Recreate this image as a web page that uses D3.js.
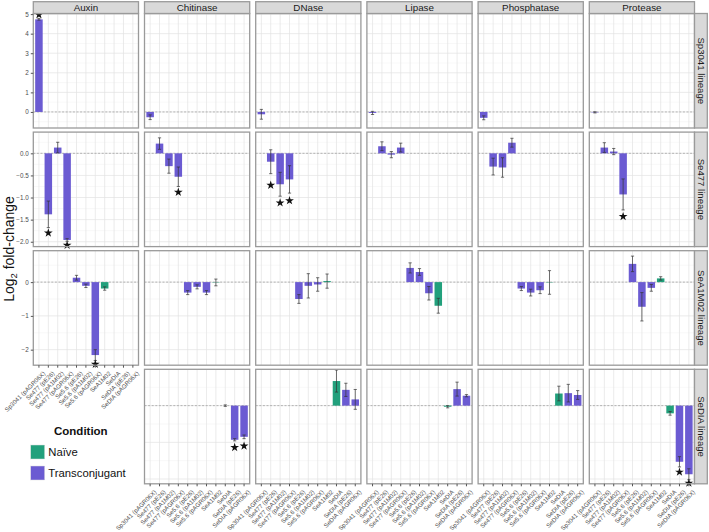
<!DOCTYPE html>
<html>
<head>
<meta charset="utf-8">
<script src="https://cdn.jsdelivr.net/npm/d3@7"></script>
<style>
    body { margin: 0; background: #fff; }
    svg { display: block; font-family: "Liberation Sans", Arial, sans-serif; }
</style>
</head>
<body>
<svg id="chart" width="709" height="532"></svg>
<script>
'use strict';

/************************************************ data ******************************************************/

var assays = ['Auxin', 'Chitinase', 'DNase', 'Lipase', 'Phosphatase', 'Protease'];
var lineages = ['Sp3041 lineage', 'Se477 lineage', 'SeA1M02 lineage', 'SeDIA lineage'];
var strains = [
    'Sp3041 (pAGR06X)', 'Se477 (pE26)', 'Se477 (pA1M02)', 'Se477 (pAGR06X)',
    'Se5.6 (pE26)', 'Se5.6 (pA1M02)', 'Se5.6 (pAGR06X)', 'SeA1M02',
    'SeDIA', 'SeDIA (pE26)', 'SeDIA (pAGR06X)'
];
var naiveStrains = ['SeA1M02', 'SeDIA'];
var conditions = ['Naïve', 'Transconjugant'];
var conditionColors = ['#22a07c', '#6b5bd2'];

// [assay, strain, log2 fold-change, error, star position (null = not significant)]
var sp3041Data = [
    ['Auxin', 'Sp3041 (pAGR06X)', 4.73, 0.04, 4.97],
    ['Chitinase', 'Sp3041 (pAGR06X)', -0.27, 0.12, null],
    ['DNase', 'Sp3041 (pAGR06X)', -0.12, 0.25, null],
    ['Lipase', 'Sp3041 (pAGR06X)', -0.05, 0.08, null],
    ['Phosphatase', 'Sp3041 (pAGR06X)', -0.3, 0.1, null],
    ['Protease', 'Sp3041 (pAGR06X)', -0.02, 0.03, null]
];

var se477Data = [
    ['Auxin', 'Se477 (pE26)', -1.38, 0.3, -1.8],
    ['Auxin', 'Se477 (pA1M02)', 0.13, 0.12, null],
    ['Auxin', 'Se477 (pAGR06X)', -1.96, 0.03, -2.08],
    ['Chitinase', 'Se477 (pE26)', 0.22, 0.13, null],
    ['Chitinase', 'Se477 (pA1M02)', -0.29, 0.16, null],
    ['Chitinase', 'Se477 (pAGR06X)', -0.53, 0.22, -0.88],
    ['DNase', 'Se477 (pE26)', -0.19, 0.27, -0.72],
    ['DNase', 'Se477 (pA1M02)', -0.7, 0.27, -1.12],
    ['DNase', 'Se477 (pAGR06X)', -0.59, 0.31, -1.07],
    ['Lipase', 'Se477 (pE26)', 0.16, 0.1, null],
    ['Lipase', 'Se477 (pA1M02)', -0.03, 0.07, null],
    ['Lipase', 'Se477 (pAGR06X)', 0.13, 0.1, null],
    ['Phosphatase', 'Se477 (pE26)', -0.3, 0.19, null],
    ['Phosphatase', 'Se477 (pA1M02)', -0.32, 0.22, null],
    ['Phosphatase', 'Se477 (pAGR06X)', 0.24, 0.1, null],
    ['Protease', 'Se477 (pE26)', 0.13, 0.11, null],
    ['Protease', 'Se477 (pA1M02)', 0.04, 0.07, null],
    ['Protease', 'Se477 (pAGR06X)', -0.93, 0.35, -1.43]
];

var seA1M02Data = [
    ['Auxin', 'Se5.6 (pE26)', 0.13, 0.07, null],
    ['Auxin', 'Se5.6 (pA1M02)', -0.11, 0.05, null],
    ['Auxin', 'Se5.6 (pAGR06X)', -2.16, 0.16, -2.43],
    ['Auxin', 'SeA1M02', -0.19, 0.05, null],
    ['Chitinase', 'Se5.6 (pE26)', -0.31, 0.06, null],
    ['Chitinase', 'Se5.6 (pA1M02)', -0.14, 0.06, null],
    ['Chitinase', 'Se5.6 (pAGR06X)', -0.31, 0.06, null],
    ['Chitinase', 'SeA1M02', -0.01, 0.1, null],
    ['DNase', 'Se5.6 (pE26)', -0.5, 0.13, null],
    ['DNase', 'Se5.6 (pA1M02)', -0.11, 0.36, null],
    ['DNase', 'Se5.6 (pAGR06X)', -0.07, 0.2, null],
    ['DNase', 'SeA1M02', 0.03, 0.21, null],
    ['Lipase', 'Se5.6 (pE26)', 0.42, 0.15, null],
    ['Lipase', 'Se5.6 (pA1M02)', 0.3, 0.1, null],
    ['Lipase', 'Se5.6 (pAGR06X)', -0.33, 0.2, null],
    ['Lipase', 'SeA1M02', -0.7, 0.22, null],
    ['Phosphatase', 'Se5.6 (pE26)', -0.19, 0.06, null],
    ['Phosphatase', 'Se5.6 (pA1M02)', -0.31, 0.1, null],
    ['Phosphatase', 'Se5.6 (pAGR06X)', -0.24, 0.1, null],
    ['Phosphatase', 'SeA1M02', -0.01, 0.35, null],
    ['Protease', 'Se5.6 (pE26)', 0.54, 0.23, null],
    ['Protease', 'Se5.6 (pA1M02)', -0.73, 0.42, null],
    ['Protease', 'Se5.6 (pAGR06X)', -0.17, 0.1, null],
    ['Protease', 'SeA1M02', 0.11, 0.05, null]
];

var seDIAData = [
    ['Chitinase', 'SeDIA', 0.0, 0.02, null],
    ['Chitinase', 'SeDIA (pE26)', -0.93, 0.03, -1.14],
    ['Chitinase', 'SeDIA (pAGR06X)', -0.85, 0.05, -1.1],
    ['DNase', 'SeDIA', 0.67, 0.3, null],
    ['DNase', 'SeDIA (pE26)', 0.43, 0.18, null],
    ['DNase', 'SeDIA (pAGR06X)', 0.17, 0.27, null],
    ['Lipase', 'SeDIA', -0.03, 0.03, null],
    ['Lipase', 'SeDIA (pE26)', 0.45, 0.19, null],
    ['Lipase', 'SeDIA (pAGR06X)', 0.27, 0.03, null],
    ['Phosphatase', 'SeDIA', 0.33, 0.2, null],
    ['Phosphatase', 'SeDIA (pE26)', 0.34, 0.24, null],
    ['Phosphatase', 'SeDIA (pAGR06X)', 0.29, 0.12, null],
    ['Protease', 'SeDIA', -0.21, 0.05, null],
    ['Protease', 'SeDIA (pE26)', -1.53, 0.14, -1.81],
    ['Protease', 'SeDIA (pAGR06X)', -1.87, 0.15, -2.11]
];

var lineageData = [sp3041Data, se477Data, seA1M02Data, seDIAData];

// free y scales per lineage row
var yDomains = [[-0.82, 5.03], [-2.11, 0.48], [-2.46, 0.93], [-2.13, 0.99]];
var yTickStep = [1, 0.5, 1, 1];
var yTickFormat = ['d', '.1f', 'd', 'd'];

/************************************************ layout ******************************************************/

var svg = d3.select('#chart');

var plotLeft = 33.3,
    plotTop = 13.5,
    panelW = 105.2,
    panelH = 114.5,
    colStep = 111.2,
    rowStep = 118.6,
    stripH = 11.8,
    stripW = 12.8;

var borderColor = '#9a9a9a',
    textColor = '#4d4d4d';

var x = d3.scaleBand()
    .domain(strains)
    .range([0, panelW])
    .paddingInner(0.2)
    .paddingOuter(0.2);

var star = d3.symbol().type(d3.symbolStar).size(24);

function gridValues(domain, step) {
    var start = Math.ceil(domain[0] / step) * step,
        out = [];
    for (var v = start; v <= domain[1] + 1e-9; v += step) {
        out.push(Math.round(v * 1000) / 1000);
    }
    return out;
}

lineages.forEach(function (lineage, r) {
    var y = d3.scaleLinear().domain(yDomains[r]).range([panelH, 0]);
    var major = gridValues(yDomains[r], yTickStep[r]);
    var minor = gridValues(yDomains[r], yTickStep[r] / 2).filter(function (v) {
        return major.indexOf(v) < 0;
    });
    var rows = lineageData[r].map(function (d) {
        return {assay: d[0], strain: d[1], value: d[2], err: d[3], star: d[4]};
    });

    assays.forEach(function (assay, c) {
        if (r === 3 && c === 0) {
            return; // no auxin panel for the SeDIA lineage
        }
        var g = svg.append('g')
            .attr('transform', 'translate(' + (plotLeft + c * colStep) + ',' + (plotTop + r * rowStep) + ')');

        g.append('rect')
            .attr('width', panelW)
            .attr('height', panelH)
            .attr('fill', '#fff');

        g.selectAll('.minor').data(minor).enter().append('line')
            .attr('x1', 0).attr('x2', panelW)
            .attr('y1', function (d) { return y(d); })
            .attr('y2', function (d) { return y(d); })
            .attr('stroke', '#f0f0f0').attr('stroke-width', 0.5);

        g.selectAll('.major').data(major).enter().append('line')
            .attr('x1', 0).attr('x2', panelW)
            .attr('y1', function (d) { return y(d); })
            .attr('y2', function (d) { return y(d); })
            .attr('stroke', '#e2e2e2').attr('stroke-width', 0.7);

        g.selectAll('.vgrid').data(strains).enter().append('line')
            .attr('x1', function (d) { return x(d) + x.bandwidth() / 2; })
            .attr('x2', function (d) { return x(d) + x.bandwidth() / 2; })
            .attr('y1', 0).attr('y2', panelH)
            .attr('stroke', '#e2e2e2').attr('stroke-width', 0.7);

        g.append('line')
            .attr('x1', 0).attr('x2', panelW)
            .attr('y1', y(0)).attr('y2', y(0))
            .attr('stroke', '#9a9a9a')
            .attr('stroke-width', 0.7)
            .attr('stroke-dasharray', '2,1.6');

        var cells = rows.filter(function (d) { return d.assay === assay; });

        g.selectAll('.bar').data(cells).enter().append('rect')
            .attr('x', function (d) { return x(d.strain); })
            .attr('width', x.bandwidth())
            .attr('y', function (d) { return y(Math.max(0, d.value)); })
            .attr('height', function (d) { return Math.abs(y(d.value) - y(0)); })
            .attr('fill', function (d) {
                return naiveStrains.indexOf(d.strain) >= 0 ? conditionColors[0] : conditionColors[1];
            });

        var eb = g.selectAll('.err').data(cells).enter().append('g')
            .attr('stroke', '#333')
            .attr('stroke-width', 0.7);
        eb.append('line')
            .attr('x1', function (d) { return x(d.strain) + x.bandwidth() / 2; })
            .attr('x2', function (d) { return x(d.strain) + x.bandwidth() / 2; })
            .attr('y1', function (d) { return y(d.value + d.err); })
            .attr('y2', function (d) { return y(d.value - d.err); });
        [1, -1].forEach(function (s) {
            eb.append('line')
                .attr('x1', function (d) { return x(d.strain) + x.bandwidth() / 2 - 1.6; })
                .attr('x2', function (d) { return x(d.strain) + x.bandwidth() / 2 + 1.6; })
                .attr('y1', function (d) { return y(d.value + s * d.err); })
                .attr('y2', function (d) { return y(d.value + s * d.err); });
        });

        g.selectAll('.star').data(cells.filter(function (d) { return d.star !== null; }))
            .enter().append('path')
            .attr('d', star)
            .attr('fill', '#111')
            .attr('transform', function (d) {
                return 'translate(' + (x(d.strain) + x.bandwidth() / 2) + ',' + y(d.star) + ')';
            });

        g.append('rect')
            .attr('width', panelW)
            .attr('height', panelH)
            .attr('fill', 'none')
            .attr('stroke', borderColor)
            .attr('stroke-width', 1.3);

        // y axis on the leftmost panels
        if (c === 0) {
            var yAxis = g.append('g')
                .call(d3.axisLeft(y).tickValues(major).tickSize(2.5).tickPadding(2)
                    .tickFormat(d3.format(yTickFormat[r])));
            yAxis.select('.domain').remove();
            yAxis.selectAll('line').attr('stroke', '#555');
            yAxis.selectAll('text')
                .attr('fill', textColor)
                .style('font-size', '6.3px')
                .style('font-family', '"Liberation Sans", Arial, sans-serif');
        }

        // x axis on the bottom panel of each column
        if (r === 3 || (c === 0 && r === 2)) {
            var xAxis = g.append('g')
                .attr('transform', 'translate(0,' + panelH + ')')
                .call(d3.axisBottom(x).tickSize(2.5).tickPadding(2));
            xAxis.select('.domain').remove();
            xAxis.selectAll('line').attr('stroke', '#555');
            xAxis.selectAll('text')
                .attr('fill', textColor)
                .style('font-size', '6.1px')
                .style('font-family', '"Liberation Sans", Arial, sans-serif')
                .attr('text-anchor', 'end')
                .attr('dy', '0.35em')
                .attr('transform', 'translate(2,4) rotate(-45)');
        }
    });

    // right strip
    var sy = plotTop + r * rowStep;
    var sx = plotLeft + 5 * colStep + panelW;
    svg.append('rect')
        .attr('x', sx).attr('y', sy)
        .attr('width', stripW).attr('height', panelH)
        .attr('fill', '#d9d9d9')
        .attr('stroke', borderColor)
        .attr('stroke-width', 1.3);
    svg.append('text')
        .attr('transform', 'translate(' + (sx + stripW / 2) + ',' + (sy + panelH / 2) + ') rotate(90)')
        .attr('text-anchor', 'middle')
        .attr('dy', '0.35em')
        .attr('fill', '#1a1a1a')
        .style('font-size', '9.6px')
        .text(lineage);
});

// top strips
assays.forEach(function (assay, c) {
    var sx = plotLeft + c * colStep;
    svg.append('rect')
        .attr('x', sx).attr('y', plotTop - stripH)
        .attr('width', panelW).attr('height', stripH)
        .attr('fill', '#d9d9d9')
        .attr('stroke', borderColor)
        .attr('stroke-width', 1.3);
    svg.append('text')
        .attr('x', sx + panelW / 2)
        .attr('y', plotTop - stripH / 2)
        .attr('dy', '0.35em')
        .attr('text-anchor', 'middle')
        .attr('fill', '#1a1a1a')
        .style('font-size', '9.8px')
        .text(assay);
});

// y axis title
var yTitle = svg.append('text')
    .attr('transform', 'translate(14,' + 249 + ') rotate(-90)')
    .attr('text-anchor', 'middle')
    .attr('fill', '#111')
    .style('font-size', '14px');
yTitle.append('tspan').text('Log');
yTitle.append('tspan').attr('baseline-shift', '-25%').style('font-size', '9.5px').text('2');
yTitle.append('tspan').text(' fold-change');

// legend
var legend = svg.append('g');
legend.append('text')
    .attr('x', 54).attr('y', 435)
    .attr('fill', '#111')
    .style('font-size', '11.5px')
    .style('font-weight', 'bold')
    .text('Condition');
var keys = legend.selectAll('.key').data(conditions).enter().append('g')
    .attr('transform', function (d, i) { return 'translate(30.7,' + (445 + i * 21) + ')'; });
keys.append('rect')
    .attr('width', 14).attr('height', 14)
    .attr('fill', function (d, i) { return conditionColors[i]; })
    .attr('stroke', '#ddd').attr('stroke-width', 0.5);
keys.append('text')
    .attr('x', 17.6).attr('y', 7)
    .attr('dy', '0.35em')
    .attr('fill', '#111')
    .style('font-size', '11.3px')
    .text(function (d) { return d; });
</script>
</body>
</html>
